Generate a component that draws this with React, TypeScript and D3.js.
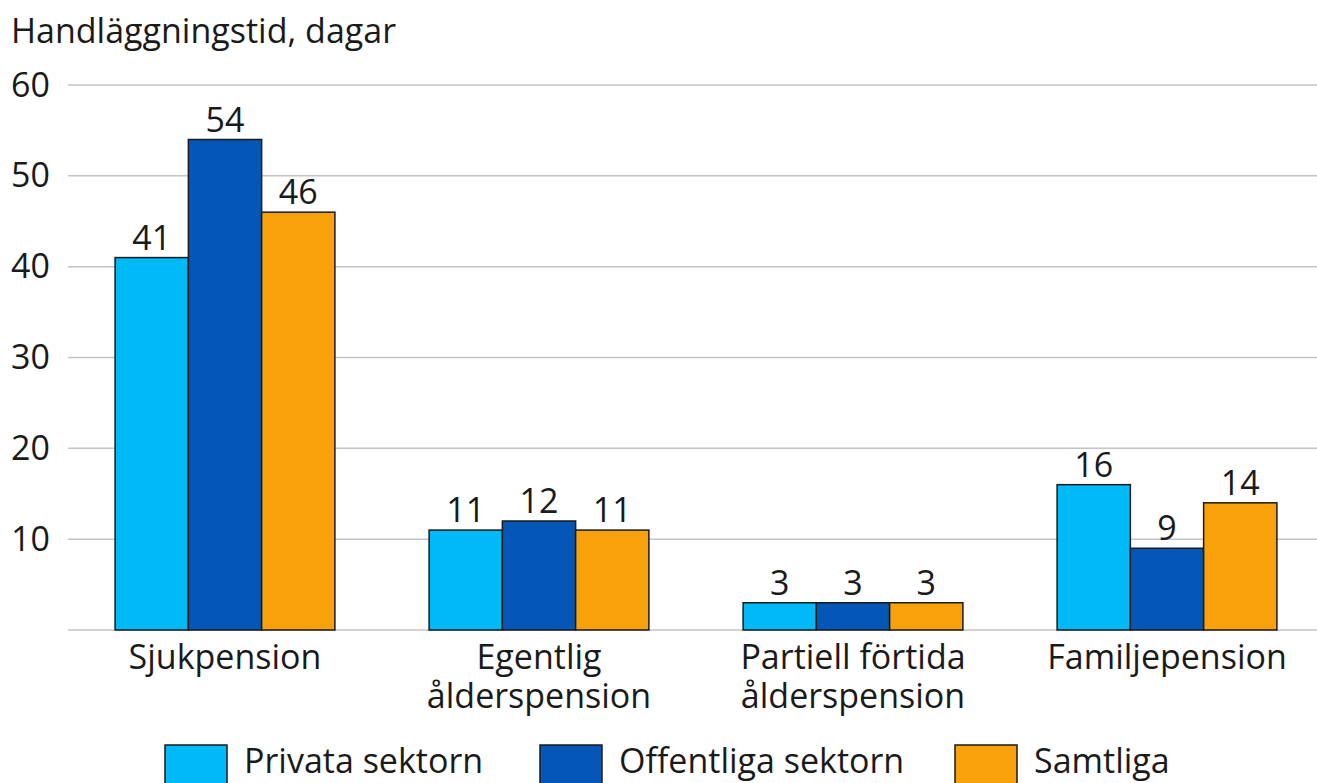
import React from 'react';
import * as d3 from 'd3';

const categories: string[][] = [
	['Sjukpension'],
	['Egentlig', 'ålderspension'],
	['Partiell förtida', 'ålderspension'],
	['Familjepension'],
];
const seriesNames = ['Privata sektorn', 'Offentliga sektorn', 'Samtliga'];
const privata = [41, 11, 3, 16];
const offentliga = [54, 12, 3, 9];
const samtliga = [46, 11, 3, 14];
const yTicks = [10, 20, 30, 40, 50, 60];
const yTitle = 'Handläggningstid, dagar';

const colors = ['#00B9F7', '#0457B7', '#F8A10B'];
const FONT = '"Open Sans", Lato, sans-serif';
const FS = 34;

const width = 1317;
const height = 783;
const margin = { top: 85, right: -7, bottom: 153, left: 68 };

const App: React.FC = () => {
	const innerWidth = width - margin.left - margin.right;
	const innerHeight = height - margin.top - margin.bottom;
	const series = [privata, offentliga, samtliga];

	const x0 = d3
		.scaleBand<number>()
		.domain(d3.range(categories.length))
		.range([0, innerWidth])
		.paddingInner(0.3)
		.paddingOuter(0.15);
	const x1 = d3.scaleBand<number>().domain(d3.range(series.length)).range([0, x0.bandwidth()]);
	const y = d3.scaleLinear().domain([0, 60]).range([innerHeight, 0]);

	return (
		<svg
			width={width}
			height={height}
			style={{ position: 'absolute', left: 0, top: 0, background: '#fff' }}
			fontFamily={FONT}
		>
			<text x={11} y={43} fontSize={FS} fill="#1a1a1a">
				{yTitle}
			</text>
			<g transform={`translate(${margin.left},${margin.top})`}>
				{/* grid */}
				{[0, ...yTicks].map((t) => (
					<line key={t} x1={0} x2={innerWidth} y1={y(t)} y2={y(t)} stroke="#c4c4c4" strokeWidth={1.5} />
				))}
				{yTicks.map((t) => (
					<text key={t} x={-57} y={y(t)} dy="0.34em" fontSize={FS} fill="#1a1a1a">
						{t}
					</text>
				))}
				{/* bars */}
				{categories.map((c, ci) => (
					<g key={ci} transform={`translate(${x0(ci)},0)`}>
						{series.map((s, si) => (
							<g key={si}>
								<rect
									x={x1(si)}
									y={y(s[ci])}
									width={x1.bandwidth()}
									height={innerHeight - y(s[ci])}
									fill={colors[si]}
									stroke="#1a1a1a"
									strokeWidth={1.5}
								/>
								<text
									x={(x1(si) as number) + x1.bandwidth() / 2}
									y={y(s[ci]) - 8}
									textAnchor="middle"
									fontSize={FS}
									fill="#1a1a1a"
								>
									{s[ci]}
								</text>
							</g>
						))}
						<text x={x0.bandwidth() / 2} y={innerHeight + 39} textAnchor="middle" fontSize={FS} fill="#1a1a1a">
							{c.map((line, li) => (
								<tspan key={li} x={x0.bandwidth() / 2} dy={li === 0 ? 0 : 39}>
									{line}
								</tspan>
							))}
						</text>
					</g>
				))}
			</g>
			{/* legend */}
			<g>
				{seriesNames.map((n, i) => {
					const lx = [165, 540, 955][i];
					return (
						<g key={n} transform={`translate(${lx},745)`}>
							<rect x={0} y={0} width={62} height={40} fill={colors[i]} stroke="#1a1a1a" strokeWidth={1.5} />
							<text x={79} y={28} fontSize={FS} fill="#1a1a1a">
								{n}
							</text>
						</g>
					);
				})}
			</g>
		</svg>
	);
};

export default App;
